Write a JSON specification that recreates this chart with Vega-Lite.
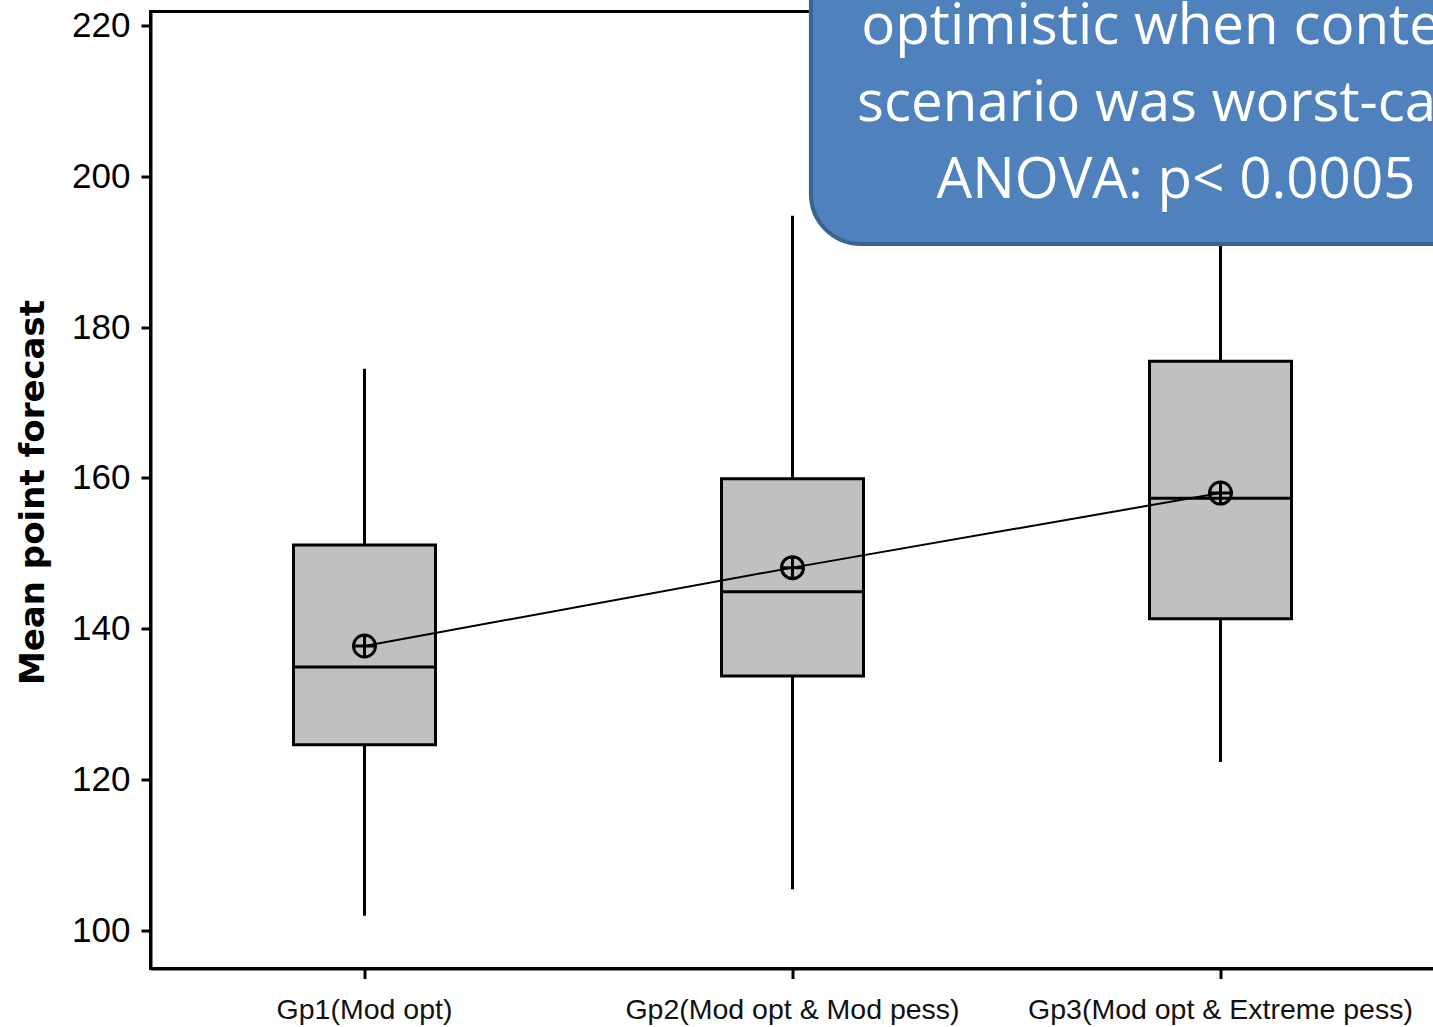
{
  "$schema": "https://vega.github.io/schema/vega-lite/v6.json",
  "width": 1284,
  "height": 957,
  "autosize": {"type": "none"},
  "padding": {"left": 150.5, "top": 11.5, "right": 0, "bottom": 58.5},
  "background": "white",
  "config": {"view": {"stroke": "black", "strokeWidth": 3}},
  "layer": [
    {
      "data": {
        "values": [
          {"group": "Gp1(Mod opt)", "lo": 101.9, "q1": 124.6, "med": 134.9, "q3": 151.1, "hi": 174.5, "mean": 137.7},
          {"group": "Gp2(Mod opt & Mod pess)", "lo": 105.4, "q1": 133.7, "med": 144.9, "q3": 159.9, "hi": 194.8, "mean": 148.1},
          {"group": "Gp3(Mod opt & Extreme pess)", "lo": 122.3, "q1": 141.3, "med": 157.3, "q3": 175.5, "hi": 210, "mean": 158.0}
        ]
      },
      "encoding": {
        "x": {
          "field": "group",
          "type": "nominal",
          "scale": {
            "type": "band",
            "domain": ["Gp1(Mod opt)", "Gp2(Mod opt & Mod pess)", "Gp3(Mod opt & Extreme pess)"],
            "paddingInner": 0.6682,
            "paddingOuter": 0.3341
          },
          "axis": {
            "title": null,
            "domainColor": "black",
            "domainWidth": 3,
            "tickColor": "black",
            "tickWidth": 3,
            "tickSize": 10,
            "labelFont": "Liberation Sans",
            "labelFontSize": 28.5,
            "labelColor": "#111111",
            "labelAngle": 0,
            "labelPadding": 39.5,
            "labelBaseline": "alphabetic",
            "labelLimit": 0
          }
        }
      },
      "layer": [
        {
          "mark": {"type": "rule", "stroke": "black", "strokeWidth": 3},
          "encoding": {
            "y": {
              "field": "lo",
              "type": "quantitative",
              "scale": {"domain": [94.89, 221.92], "nice": false, "zero": false},
              "axis": {
                "title": "Mean point forecast",
                "titleFont": "DejaVu Sans",
                "titleFontWeight": "bold",
                "titleFontSize": 34,
                "titleColor": "black",
                "titleAngle": 270,
                "titleX": -107.5,
                "titleY": 480.5,
                "titleAlign": "center",
                "titleBaseline": "alphabetic",
                "values": [100, 120, 140, 160, 180, 200, 220],
                "grid": false,
                "domainColor": "black",
                "domainWidth": 3,
                "tickColor": "black",
                "tickWidth": 3,
                "tickSize": 9.5,
                "labelFont": "Liberation Sans",
                "labelFontSize": 35,
                "labelColor": "black",
                "labelPadding": 11,
                "labelBaseline": "middle"
              }
            },
            "y2": {"field": "hi"}
          }
        },
        {
          "mark": {"type": "bar", "fill": "#c0c0c0", "stroke": "black", "strokeWidth": 3, "opacity": 1},
          "encoding": {
            "y": {"field": "q1", "type": "quantitative"},
            "y2": {"field": "q3"}
          }
        },
        {
          "mark": {"type": "tick", "color": "black", "thickness": 3, "size": 142, "opacity": 1},
          "encoding": {"y": {"field": "med", "type": "quantitative"}}
        },
        {
          "mark": {"type": "line", "color": "black", "strokeWidth": 2},
          "encoding": {"y": {"field": "mean", "type": "quantitative"}}
        },
        {
          "mark": {
            "type": "point",
            "shape": "M-1,0A1,1,0,1,1,1,0A1,1,0,1,1,-1,0M-1,0L1,0M0,-1L0,1",
            "size": 484,
            "color": "black",
            "filled": false,
            "strokeWidth": 3,
            "opacity": 1
          },
          "encoding": {"y": {"field": "mean", "type": "quantitative"}}
        }
      ]
    },
    {
      "data": {"values": [{}]},
      "layer": [
        {
          "mark": {"type": "rect", "fill": "#4f81bd", "stroke": "#3b6392", "strokeWidth": 4, "cornerRadius": 50},
          "encoding": {
            "x": {"datum": 1.543, "type": "quantitative", "scale": {"domain": [0, 3]}, "axis": null},
            "x2": {"datum": 3.5},
            "y": {"datum": 191.06, "type": "quantitative"},
            "y2": {"datum": 240}
          }
        },
        {
          "mark": {
            "type": "text",
            "text": ["optimistic when context", "scenario was worst-case", "ANOVA: p< 0.0005"],
            "font": "Open Sans",
            "fontSize": 56.5,
            "lineHeight": 77,
            "align": "center",
            "baseline": "alphabetic",
            "color": "white"
          },
          "encoding": {
            "x": {"datum": 2.396, "type": "quantitative", "scale": {"domain": [0, 3]}, "axis": null},
            "y": {"datum": 217.6, "type": "quantitative"}
          }
        }
      ]
    }
  ],
  "resolve": {"scale": {"x": "independent"}}
}
